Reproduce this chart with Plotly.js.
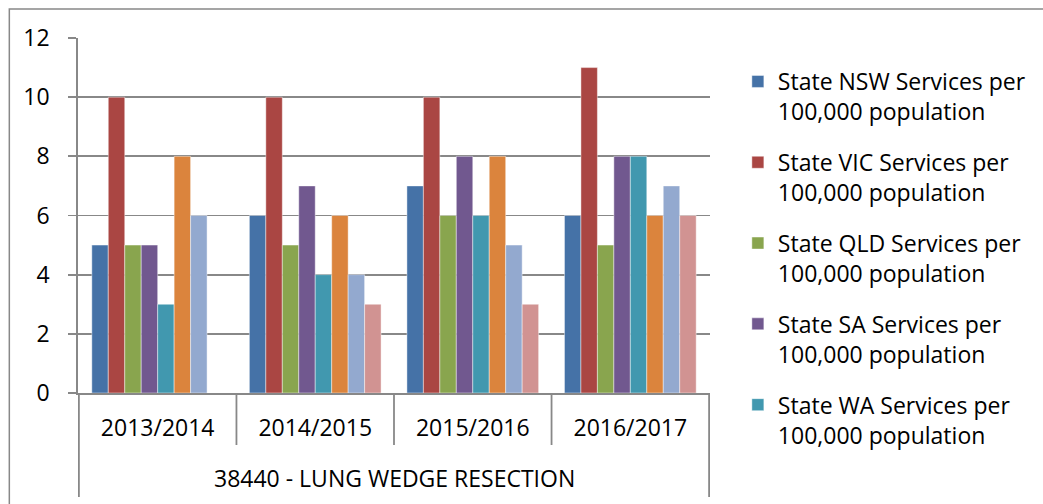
<!DOCTYPE html>
<html>
<head>
<meta charset="utf-8">
<script src="https://cdn.plot.ly/plotly-3.0.1.min.js"></script>
<style>html,body{margin:0;padding:0;background:#fff;}#chart{width:1043px;height:504px;}</style>
</head>
<body>
<div id="chart"></div>
<script>
// ---- data ----
var years = ["2013/2014", "2014/2015", "2015/2016", "2016/2017"];
var groupLabel = "38440 - LUNG WEDGE RESECTION";
var seriesNames = [
  "State NSW Services per<br>100,000 population",
  "State VIC Services per<br>100,000 population",
  "State QLD Services per<br>100,000 population",
  "State SA Services per<br>100,000 population",
  "State WA Services per<br>100,000 population",
  "State TAS Services per<br>100,000 population",
  "State NT Services per<br>100,000 population",
  "State ACT Services per<br>100,000 population"
];
var nsw = [5, 6, 7, 6];
var vic = [10, 10, 10, 11];
var qld = [5, 5, 6, 5];
var sa  = [5, 7, 8, 8];
var wa  = [3, 4, 6, 8];
var tas = [8, 6, 8, 6];
var nt  = [6, 4, 5, 7];
var act = [null, 3, 3, 6];
var yTicks = [0, 2, 4, 6, 8, 10, 12];

// ---- styling ----
var colors = ["#4572A7", "#AA4643", "#89A54E", "#71588F", "#4198AF", "#DB843D", "#93A9CF", "#D19392"];
var legendVisible = [true, true, true, true, true, false, false, false];
var seriesValues = [nsw, vic, qld, sa, wa, tas, nt, act];
var gray = "#888888";
var font = "Open Sans, Noto Sans, sans-serif";

var W = 1043, H = 504;
var mL = 78, mR = W - 713, mT = 38, mB = H - 393;
var plotW = W - mL - mR, plotH = H - mT - mB;
function px2x(px) { return (px - mL) / plotW; }
function px2y(py) { return (H - mB - py) / plotH; }

var traces = seriesValues.map(function (vals, i) {
  return {
    type: "bar",
    x: years,
    y: vals,
    name: seriesNames[i],
    legendgroup: "g" + i,
    showlegend: legendVisible[i],
    marker: { color: colors[i], line: { color: "rgba(255,255,255,0.55)", width: 0.8 } },
    hoverinfo: "x+y"
  };
});

var shapes = [];
// outer chart border
shapes.push({ type: "rect", xref: "paper", yref: "paper",
  x0: px2x(9), x1: px2x(W + 20), y0: px2y(H + 20), y1: px2y(9),
  line: { color: gray, width: 1.5 }, fillcolor: "rgba(0,0,0,0)", layer: "below" });
// category boundary lines under the axis
for (var k = 0; k <= years.length; k++) {
  var outer = (k === 0 || k === years.length);
  shapes.push({ type: "line", xref: "x", yref: "paper",
    x0: k - 0.5, x1: k - 0.5, y0: 0, y1: outer ? px2y(497) : px2y(445),
    line: { color: gray, width: 1.8 } });
}

var layout = {
  width: W, height: H,
  margin: { l: mL, r: mR, t: mT, b: mB, pad: 0 },
  paper_bgcolor: "#ffffff",
  plot_bgcolor: "#ffffff",
  font: { family: font, size: 23, color: "#000" },
  barmode: "group",
  bargap: 0.164,
  bargroupgap: 0,
  showlegend: true,
  legend: {
    x: px2x(741), xanchor: "left",
    y: px2y(60), yanchor: "top",
    valign: "top",
    traceorder: "grouped",
    tracegroupgap: 18,
    maxheight: 600,
    font: { family: font, size: 23, color: "#000" },
    bgcolor: "rgba(0,0,0,0)"
  },
  xaxis: {
    type: "category",
    showgrid: false,
    showline: true, linecolor: gray, linewidth: 1.8,
    ticks: "", ticklabelstandoff: 14,
    tickfont: { family: font, size: 23, color: "#000" },
    zeroline: false, fixedrange: true
  },
  yaxis: {
    range: [0, 12],
    tickvals: yTicks,
    showgrid: true, gridcolor: gray, gridwidth: 1.8,
    showline: true, linecolor: gray, linewidth: 1.8,
    ticks: "outside", ticklen: 8, tickcolor: gray, tickwidth: 1.8,
    ticklabelstandoff: 14,
    tickfont: { family: font, size: 23, color: "#000" },
    zeroline: false, fixedrange: true
  },
  shapes: shapes,
  annotations: [{
    xref: "paper", yref: "paper", x: 0.5, y: px2y(478),
    xanchor: "center", yanchor: "middle", showarrow: false,
    text: groupLabel, font: { family: font, size: 23, color: "#000" }
  }]
};

Plotly.newPlot("chart", traces, layout, { displayModeBar: false, staticPlot: true });
</script>
</body>
</html>
